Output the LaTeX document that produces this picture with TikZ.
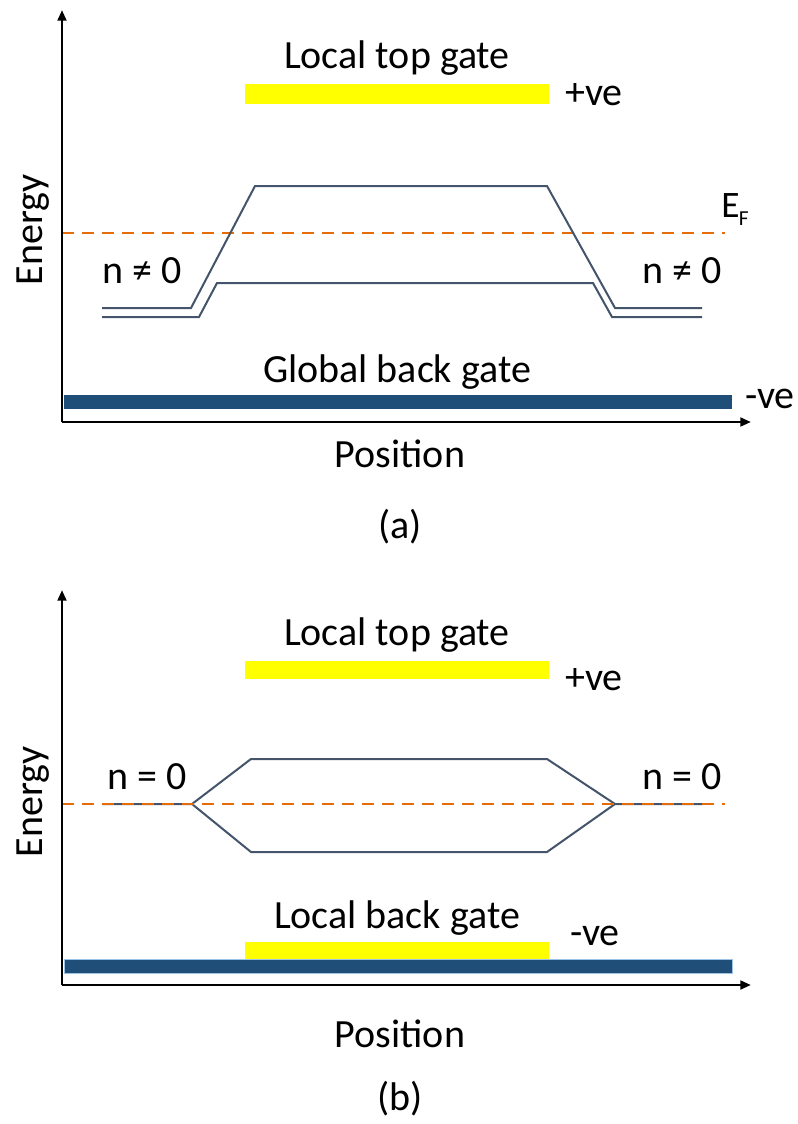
\documentclass[tikz,border=0pt]{standalone}
\usepackage{fontspec}
\setmainfont{Carlito}
\usetikzlibrary{arrows.meta}
\definecolor{bandc}{HTML}{44546A}
\definecolor{efc}{HTML}{E46C0A}
\definecolor{navy}{HTML}{1F4E79}
\definecolor{navyedge}{HTML}{9DC3E6}
\definecolor{gatey}{HTML}{FFFF00}
\tikzset{
  lbl/.style={font=\fontsize{30}{36}\selectfont, inner sep=0pt, text=black},
  axisline/.style={line width=2pt, -{Triangle[length=8pt,width=6.5pt]}},
  band/.style={draw=bandc, line width=1.5pt, line join=miter},
  fermi/.style={draw=efc, line width=1.7pt, dash pattern=on 9pt off 6pt},
  topgate/.style={fill=gatey},
  backbar/.style={fill=navy},
}
\begin{document}
\begin{tikzpicture}[x=0.75pt,y=-0.75pt]
\useasboundingbox (0,0) rectangle (798,1124);
\fill[white] (0,0) rectangle (798,1124);

% ================= panel (a) =================
\coordinate (aO) at (62,422);
\coordinate (aY) at (62,10);
\coordinate (aX) at (751,422);
\fill[backbar] (64,395) rectangle (732,409);
\fill[topgate] (245,84) rectangle (549,104);
\node[lbl, anchor=base] (aTop) at (397,69) {Local top gate};
\node[lbl, anchor=base west] (aPlus) at (565,105) {+ve};
\node[lbl, anchor=base] (aBack) at (397,382) {Global back gate};
\node[lbl, anchor=base west] (aMinus) at (745,408) {-ve};
% fermi level
\coordinate (aF1) at (62,233);
\coordinate (aF2) at (725,233);
\draw[fermi] (aF1) -- (aF2);
\node[inner sep=0pt, anchor=base west, font=\fontsize{28}{30}\selectfont] (aEF) at (721,217) {E\kern-0.5pt\raisebox{-6pt}{\fontsize{16}{18}\selectfont F}};
% bands
\draw[band] (102,308) -- (191,308) -- (255,186) -- (547,186) -- (615,308) -- (702,308);
\draw[band] (102,317) -- (199,317) -- (217,283) -- (593,283) -- (612,317) -- (702,317);
\node[lbl, anchor=base] (aNL) at (142,283) {n ≠ 0};
\node[lbl, anchor=base] (aNR) at (682,283) {n ≠ 0};
% axes
\draw[axisline] (aO) -- (aY);
\draw[axisline] (aO) -- (aX);
\node[lbl, anchor=base, rotate=90] (aEn) at (42,230) {Energy};
\node[lbl, anchor=base] (aPos) at (400,467) {Position};
\node[lbl, anchor=base] (aCap) at (400,538) {(a)};

% ================= panel (b) =================
\coordinate (bO) at (62,985);
\coordinate (bY) at (62,590);
\coordinate (bX) at (751,985);
\filldraw[backbar, draw=navyedge, line width=0.6pt] (64,959) rectangle (732,973);
\fill[topgate] (245,942) rectangle (549,959);
\fill[topgate] (245,661) rectangle (549,679);
\node[lbl, anchor=base] (bTop) at (397,645) {Local top gate};
\node[lbl, anchor=base west] (bPlus) at (565,690) {+ve};
\node[lbl, anchor=base] (bBack) at (397,928) {Local back gate};
\node[lbl, anchor=base west] (bMinus) at (570,945) {-ve};
% bands
\draw[band] (102,804) -- (192,804) -- (251,759) -- (547,759) -- (615,804) -- (703,804);
\draw[band] (192,804) -- (251,852) -- (547,852) -- (615,804);
% fermi level
\coordinate (bF1) at (62,804);
\coordinate (bF2) at (725,804);
\draw[fermi] (bF1) -- (bF2);
\node[lbl, anchor=base] (bNL) at (147,789) {n = 0};
\node[lbl, anchor=base] (bNR) at (682,789) {n = 0};
% axes
\draw[axisline] (bO) -- (bY);
\draw[axisline] (bO) -- (bX);
\node[lbl, anchor=base, rotate=90] (bEn) at (42,802) {Energy};
\node[lbl, anchor=base] (bPos) at (400,1047) {Position};
\node[lbl, anchor=base] (bCap) at (400,1110) {(b)};
\end{tikzpicture}
\end{document}
